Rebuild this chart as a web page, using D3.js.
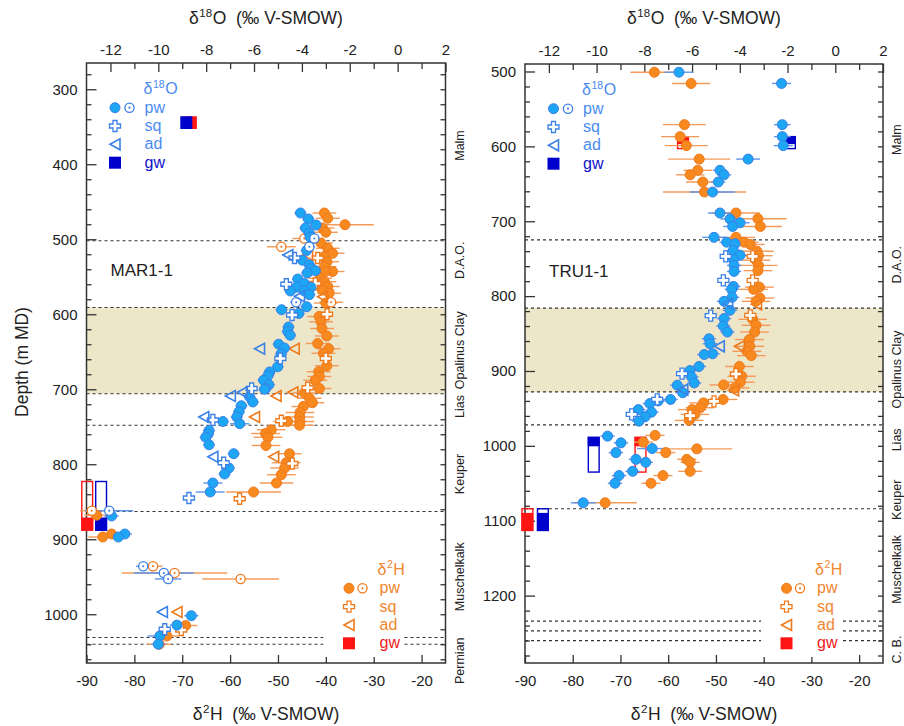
<!DOCTYPE html>
<html><head><meta charset="utf-8">
<script src="https://cdn.jsdelivr.net/npm/d3@7"></script>
<style>
body{margin:0;background:#fff}
svg{display:block}
text{font-family:"Liberation Sans",Arial,sans-serif;fill:#222}
</style>
</head><body><svg id="chart" width="904" height="726"></svg>
<script>
// ---------- axis domains & ticks ----------
const H2_DOMAIN = [-90, -15];           // δ2H, bottom axis
const O18_DOMAIN = [-13, 2];            // δ18O, top axis
const H2_TICKS = [-90, -80, -70, -60, -50, -40, -30, -20];
const O18_TICKS = [-12, -10, -8, -6, -4, -2, 0, 2];
const O18_MINOR = [-11, -9, -7, -5, -3, -1, 1];
const MAR_DEPTH = [265, 1065];
const TRU_DEPTH = [490, 1290];
const MAR_DEPTH_TICKS = [300, 400, 500, 600, 700, 800, 900, 1000];
const TRU_DEPTH_TICKS = [500, 600, 700, 800, 900, 1000, 1100, 1200];

// ---------- formations ----------
const marBoundaries = [502, 591, 706, 748, 863, 1031, 1040];
const marClay = [591, 706];
const marUnits = [["Malm", 375], ["D.A.O.", 528], ["Opalinus Clay", 648], ["Lias", 723], ["Keuper", 813], ["Muschelkalk", 950], ["Permian", 1062]];
const truBoundaries = [725, 816, 928, 972, 1084, 1234, 1247, 1260];
const truClay = [816, 928];
const truUnits = [["Malm", 591], ["D.A.O.", 758], ["Opalinus Clay", 898], ["Lias", 992], ["Keuper", 1072], ["Muschelkalk", 1165], ["C. B.", 1272]];

// ---------- MAR1-1 : [depth, value, error] ----------
const marPw18O = [[465,-4.06,0.25],[473,-3.73,0.25],[481,-3.41,0.25],[485,-3.85,0.25],[492,-3.69,0.25],[497,-3.66,0.25],[515,-3.80,0.25],[528,-3.98,0.25],[534,-3.69,0.25],[539,-3.62,0.25],[542,-3.44,0.25],[545,-3.78,0.25],[553,-4.17,0.25],[559,-3.90,0.25],[564,-4.22,0.25],[564,-3.62,0.25],[569,-4.48,0.25],[569,-3.90,0.25],[574,-3.69,0.25],[590,-3.80,0.25],[594,-4.85,0.25],[599,-4.13,0.25],[617,-4.56,0.25],[623,-4.59,0.25],[628,-4.49,0.25],[640,-4.97,0.25],[645,-4.73,0.25],[653,-4.87,0.25],[670,-5.01,0.25],[677,-5.35,0.25],[682,-5.42,0.25],[688,-5.60,0.25],[694,-5.38,0.25],[699,-5.52,0.25],[700,-5.56,0.25],[710,-6.19,0.25],[717,-6.05,0.25],[722,-6.53,0.25],[730,-6.63,0.25],[737,-6.72,0.25],[743,-7.30,0.25],[746,-6.60,0.4],[755,-7.88,0.25],[760,-7.92,0.25],[764,-8.02,0.25],[774,-7.88,0.25],[786,-6.85,0.25],[805,-7.05,0.25],[813,-7.23,0.25],[825,-7.72,0.4],[837,-7.83,0.6],[869,-11.95,0.3],[893,-11.40,0.3],[897,-11.67,0.3],[1002,-8.62,0.3],[1014.5,-9.22,0.3],[1029,-9.94,0.5],[1040,-10.0,0.3]];
const marPwOpen18O = [[499,-3.48,0.25],[510,-3.69,0.25],[584,-4.24,0.25],[862,-12.05,1.0],[936,-10.63,0.3],[945,-9.77,1.25],[953,-9.59,0.55]];
const marSq18O = [[525,-4.31],[560,-4.65],[601,-4.41],[659,-4.90],[699,-6.10],[741,-7.72],[798,-7.27],[845,-8.72],[1020,-9.73]];
const marAd18O = [[521,-4.59],[576,-4.10],[646,-5.77],[704,-6.49],[709,-6.99],[737,-8.10],[790,-7.72],[997,-9.83]];

const marPw2H = [[465,-40.3,2.5],[472,-39.6,2.5],[480.6,-36.0,6],[485,-40.7,2.5],[490.7,-40.0,2.5],[505,-41.0,2.5],[512,-39.6,2.5],[518.7,-38.6,2.5],[523,-40.3,2.5],[530,-39.75,2.5],[536.6,-40.3,2.5],[543,-38.6,2.5],[543,-40.1,2.5],[552,-41.2,2.5],[556.6,-40.3,2.5],[563,-39.6,2.5],[567.7,-40.7,2.5],[572,-39.3,2.5],[585,-40.0,2.5],[603,-41.4,2.5],[610,-41.0,2.5],[619,-40.8,2.5],[629,-39.8,2.5],[639,-41.7,2.5],[646,-39.4,2.5],[652,-40.5,2.5],[668.6,-39.8,2.5],[676.6,-41.5,2.5],[683,-41.35,2.5],[688,-42.2,2.5],[699,-41.35,2.5],[705,-44.5,2.5],[712,-43.4,2.5],[718,-42.8,2.5],[723,-44.7,2.5],[731,-45.4,3],[737,-45.5,3],[743,-45.4,3],[748,-45.5,3],[743,-48.0,3],[754,-51.4,3],[759,-52.6,3],[764,-52.1,3],[775,-52.5,3],[786,-47.6,2.5],[798,-48.3,3],[805,-48.6,3],[814,-49.3,3],[825,-50.3,3.5],[837,-55.1,5.7],[868,-87.9,2.5],[893,-84.75,2],[897,-86.6,3],[1015,-69.3,2.5],[1029,-73.2,2.5],[1040,-74.8,2.5]];
const marPwOpen2H = [[499,-44.5,2.5],[510,-49.3,3],[584,-38.9,2.5],[862,-88.9,2.5],[936,-76.1,2],[945,-71.6,11],[953,-57.8,8]];
const marSq2H = [[525,-41.7],[559,-42.2],[600,-39.75],[659,-40.0],[698,-43.8],[742,-49.3],[799,-47.0],[846,-58.0],[1021,-70.2]];
const marAd2H = [[521,-43.8],[576.6,-40.7],[646,-46.6],[704,-46.9],[709,-50.4],[737,-54.9],[790,-50.9],[997,-71.1]];

// groundwater samples: [value, interval top, interval base, filled top, filled base]
const marGw18O = [[-8.83, null, null, 336, 353], [-12.39, 823, 888, 871, 888]];
const marGw2H = [[-68.2, null, null, 336, 353], [-89.85, 823, 888, 871, 888]];

// ---------- TRU1-1 ----------
const truPw18O = [[501,-6.55,0.6],[516,-2.25,0.4],[571,-2.22,0.35],[587,-2.22,0.35],[599,-2.18,0.4],[617,-3.65,0.5],[632,-4.83,0.3],[638,-4.66,0.3],[647.6,-4.9,0.3],[661,-5.14,0.95],[689,-4.83,0.5],[697,-4.41,0.4],[702,-3.99,0.4],[707,-4.3,0.4],[721.5,-5.08,0.5],[728,-4.55,0.3],[730,-4.2,0.3],[739,-4.27,0.3],[745.5,-3.99,0.3],[751,-4.27,0.3],[759,-4.24,0.3],[767,-4.24,0.3],[787,-4.27,0.3],[791,-4.34,0.3],[801.6,-4.32,0.3],[807,-4.66,0.3],[819,-4.41,0.3],[830,-4.66,0.3],[840,-4.69,0.3],[848,-4.52,0.3],[857,-5.29,0.3],[863.5,-5.25,0.3],[877,-5.14,0.3],[878,-5.49,0.3],[894,-5.71,0.3],[899.5,-6.09,0.3],[908,-6.02,0.3],[916,-5.91,0.3],[919,-6.62,0.3],[929,-6.39,0.3],[938,-6.9,0.3],[940,-7.42,0.3],[943.5,-7.77,0.3],[951.6,-8.25,0.3],[955,-7.7,0.3],[961,-7.97,0.3],[967,-8.22,0.3],[987,-9.54,0.3],[996,-8.98,0.3],[1003.6,-7.67,0.63],[1009,-9.19,0.3],[1018,-8.35,0.3],[1022,-7.94,0.3],[1034,-8.49,0.3],[1039.7,-9.06,0.3],[1050,-9.23,0.3],[1076,-10.56,0.52]];
const truSq18O = [[747,-4.59],[779,-4.69],[826,-5.22],[903.5,-6.42],[938,-7.46],[958,-8.53]];
const truAd18O = [[810,-4.51],[867,-4.86],[925,-6.39]];

const truPw2H = [[501,-62.9,5],[516,-55.2,4],[571,-56.6,4.5],[587,-57.5,4],[599,-56.2,4.5],[617,-53.5,6.5],[632,-53.8,3],[638,-55.4,3],[647.6,-52.75,3.5],[661,-52.4,8.7],[689,-45.8,5],[696.6,-41.2,6],[707,-40.7,4.5],[721.5,-45.8,4],[728,-44.1,3],[731,-42.8,3],[740,-41.4,3.5],[746,-41.1,3],[752,-41.6,3],[759,-41.1,4],[766,-41.2,3],[788,-40.9,3],[791,-42.1,3],[802.5,-40.8,3],[807,-41.6,3],[831,-42.3,3],[839,-41.6,3],[848,-41.9,3],[858,-43.0,3],[867,-42.9,3],[873.7,-43.5,3],[879.5,-42.6,3],[894,-45.1,3],[907,-44.6,3],[915,-44.9,3],[918.6,-48.4,3],[922.6,-46.0,3],[938,-48.5,3],[942.6,-52.6,3],[949,-53.3,3],[951.6,-55.0,3],[958,-54.4,3],[966,-55.6,3],[986,-62.75,2],[995,-65.2,2],[1004,-54.0,7.4],[1009,-60.5,2],[1018,-56.1,2],[1022,-55.4,2],[1034,-55.4,2.5],[1039.7,-61.1,2],[1050,-63.6,2],[1076,-73.2,6.6]];
const truSq2H = [[747,-42.3],[779,-42.3],[825.6,-42.8],[904,-45.8],[940.5,-50.4],[959.6,-55.4]];
const truAd2H = [[811,-41.5],[867,-45.1],[926,-46.3]];

const truGw18O = [[-1.9, 587, 603, 587, 597], [-10.12, 988.5, 1035, 988.5, 1000.6], [-12.25, 1084, 1113, 1089.5, 1113]];
const truGw2H = [[-56.9, 587, 603, 587, 597], [-65.8, 988.5, 1035, 988.5, 1000.6], [-89.5, 1084, 1113, 1089.5, 1113]];

// ---------- styles ----------
const BLUE = {fill: "#1ca6f4", stroke: "#3a80e6", err: "#5f95ea", text: "#4a8bf0", gw: "#0000cc", gwText: "#1010c8"};
const ORANGE = {fill: "#f7891f", stroke: "#ef7a1c", err: "#f49a58", text: "#f08630", gw: "#ff1414", gwText: "#ee1a1a"};
const TAN = "#ede6c8";
const INK = "#333";
const FONT = '"Liberation Sans",Arial,sans-serif';

const svg = d3.select("#chart");

const crossPath = (a = 5.5, t = 2) =>
  `M${-t},${-a}H${t}V${-t}H${a}V${t}H${t}V${a}H${-t}V${t}H${-a}V${-t}H${-t}Z`;
const triPath = "M-5,0L5,-5.5L5,5.5Z";

function marker(g, kind, x, y, c) {
  if (kind === "pw") {
    g.append("circle").attr("cx", x).attr("cy", y).attr("r", 5)
      .attr("fill", c.fill).attr("stroke", c.stroke).attr("stroke-width", 1);
  } else if (kind === "open") {
    g.append("circle").attr("cx", x).attr("cy", y).attr("r", 4.6)
      .attr("fill", "#fff").attr("stroke", c.stroke).attr("stroke-width", 1.3);
    g.append("circle").attr("cx", x).attr("cy", y).attr("r", 1.1).attr("fill", c.stroke);
  } else if (kind === "sq") {
    g.append("path").attr("d", crossPath()).attr("transform", `translate(${x},${y})`)
      .attr("fill", "#fff").attr("stroke", c.stroke).attr("stroke-width", 1.3);
  } else if (kind === "ad") {
    g.append("path").attr("d", triPath).attr("transform", `translate(${x},${y})`)
      .attr("fill", "none").attr("stroke", c.stroke).attr("stroke-width", 1.6);
  } else if (kind === "gw") {
    g.append("rect").attr("x", x - 6).attr("y", y - 6).attr("width", 12).attr("height", 12).attr("fill", c.gw);
  }
}

function errorBars(g, data, xs, y, c) {
  g.selectAll(null).data(data.filter(d => d[2])).join("line")
    .attr("x1", d => xs(d[1] - d[2])).attr("x2", d => xs(d[1] + d[2]))
    .attr("y1", d => y(d[0])).attr("y2", d => y(d[0]))
    .attr("stroke", c.err).attr("stroke-width", 1.4);
}

function points(g, data, kind, xs, y, c) {
  data.forEach(d => marker(g, kind, xs(d[1]), y(d[0]), c));
}

function gwBoxes(g, data, xs, y, color) {
  data.forEach(([v, t0, t1, f0, f1]) => {
    const cx = xs(v);
    g.append("rect").attr("x", cx - 6).attr("y", y(f0)).attr("width", 12)
      .attr("height", y(f1) - y(f0)).attr("fill", color);
    if (t0 !== null) {
      g.append("rect").attr("x", cx - 5.4).attr("y", y(t0)).attr("width", 10.8)
        .attr("height", y(t1) - y(t0)).attr("fill", "none").attr("stroke", color).attr("stroke-width", 1.4);
    }
  });
}

// isotope label such as δ18O: main letter, raised mass number, tail text laid side by side
function isoLabel(g, x, y, main, sup, tail, size, color, anchor = "start") {
  const grp = g.append("g");
  const a = grp.append("text").attr("y", y).attr("font-size", size).style("fill", color).text(main);
  const b = grp.append("text").attr("y", y - size * 0.4).attr("font-size", size * 0.66).style("fill", color).text(sup);
  const c = grp.append("text").attr("y", y).attr("font-size", size).style("fill", color)
    .style("white-space", "pre").text(tail);
  const wa = a.node().getComputedTextLength();
  const wb = b.node().getComputedTextLength();
  const wc = c.node().getComputedTextLength();
  const x0 = anchor === "middle" ? x - (wa + wb + wc + 1) / 2 : x;
  a.attr("x", x0);
  b.attr("x", x0 + wa + 0.5);
  c.attr("x", x0 + wa + wb + 1);
  return grp;
}

function legend18O(g, L, T) {
  isoLabel(g, L + 57, T + 31, "δ", "18", "O", 16, BLUE.text);
  const rows = [["pw", T + 44.7], ["sq", T + 63], ["ad", T + 81.3], ["gw", T + 99.7]];
  rows.forEach(([k, yy]) => {
    marker(g, k, L + 28.5, yy, BLUE);
    if (k === "pw") marker(g, "open", L + 43, yy, BLUE);
    g.append("text").attr("x", L + 58).attr("y", yy + 5).attr("font-size", 16)
      .style("fill", k === "gw" ? BLUE.gwText : BLUE.text).text(k);
  });
}

function legend2H(g, R, B) {
  g.append("rect").attr("x", R - 122).attr("y", B - 102).attr("width", 80).attr("height", 96).attr("fill", "#fff");
  isoLabel(g, R - 68, B - 88.5, "δ", "2", "H", 16, ORANGE.text);
  const rows = [["pw", B - 74.7], ["sq", B - 56.3], ["ad", B - 38], ["gw", B - 19.7]];
  rows.forEach(([k, yy]) => {
    marker(g, k, R - 96.5, yy, ORANGE);
    if (k === "pw") marker(g, "open", R - 83, yy, ORANGE);
    g.append("text").attr("x", R - 66).attr("y", yy + 5).attr("font-size", 16)
      .style("fill", k === "gw" ? ORANGE.gwText : ORANGE.text).text(k);
  });
}

function styleAxis(sel) {
  sel.select(".domain").remove();
  sel.selectAll(".tick line").attr("stroke", INK).attr("stroke-width", 1.3);
  sel.selectAll(".tick text").attr("font-size", 15).style("fill", "#222").attr("font-family", FONT);
}

function panel(cfg) {
  const {L, R, T, B, depth, depthTicks, boundaries, clay, units, name, pw18, open18, sq18, ad18, gw18, pw2, open2, sq2, ad2, gw2} = cfg;
  const x2 = d3.scaleLinear().domain(H2_DOMAIN).range([L, R]);
  const x18 = d3.scaleLinear().domain(O18_DOMAIN).range([L, R]);
  const y = d3.scaleLinear().domain(depth).range([T, B]);
  const g = svg.append("g");

  // Opalinus Clay band
  g.append("rect").attr("x", L).attr("y", y(clay[0])).attr("width", R - L)
    .attr("height", y(clay[1]) - y(clay[0])).attr("fill", TAN);

  // formation boundaries
  g.selectAll(null).data(boundaries).join("line")
    .attr("x1", L).attr("x2", R).attr("y1", d => y(d)).attr("y2", d => y(d))
    .attr("stroke", INK).attr("stroke-width", 1.2).attr("stroke-dasharray", "3,3");

  // formation names
  units.forEach(([nm, dp]) => {
    g.append("text").attr("transform", `translate(${R + 18},${y(dp)}) rotate(-90)`)
      .attr("text-anchor", "middle").attr("font-size", 12.5).text(nm);
  });

  // axes
  const minorDepth = d3.range(Math.ceil(depth[0] / 20) * 20, depth[1], 20).filter(d => d % 100 !== 0);
  g.append("g").attr("transform", `translate(0,${T})`)
    .call(d3.axisTop(x18).tickValues(O18_TICKS).tickFormat(d => String(d)).tickSizeInner(-9).tickSizeOuter(0).tickPadding(8)).call(styleAxis);
  g.append("g").attr("transform", `translate(0,${T})`)
    .call(d3.axisTop(x18).tickValues(O18_MINOR).tickFormat("").tickSizeInner(-6).tickSizeOuter(0)).call(styleAxis);
  g.append("g").attr("transform", `translate(0,${B})`)
    .call(d3.axisBottom(x2).tickValues(H2_TICKS).tickFormat(d => String(d)).tickSizeInner(-8).tickSizeOuter(0).tickPadding(12)).call(styleAxis);
  g.append("g").attr("transform", `translate(${L},0)`)
    .call(d3.axisLeft(y).tickValues(depthTicks).tickFormat(d => String(d)).tickSizeInner(-10).tickSizeOuter(0).tickPadding(9)).call(styleAxis);
  g.append("g").attr("transform", `translate(${L},0)`)
    .call(d3.axisLeft(y).tickValues(minorDepth).tickFormat("").tickSizeInner(-5).tickSizeOuter(0)).call(styleAxis);
  g.append("g").attr("transform", `translate(${R},0)`)
    .call(d3.axisRight(y).tickValues(depthTicks.concat(minorDepth)).tickFormat("").tickSizeInner(-5).tickSizeOuter(0)).call(styleAxis);

  // frame
  g.append("rect").attr("x", L).attr("y", T).attr("width", R - L).attr("height", B - T)
    .attr("fill", "none").attr("stroke", INK).attr("stroke-width", 1.5);

  // legends
  legend2H(g, R, B);
  legend18O(g, L, T);

  // groundwater intervals
  gwBoxes(g, gw2, x2, y, ORANGE.gw);
  gwBoxes(g, gw18, x18, y, BLUE.gw);

  // error bars
  errorBars(g, pw2.concat(open2), x2, y, ORANGE);
  errorBars(g, pw18.concat(open18), x18, y, BLUE);

  // δ2H marks
  points(g, pw2, "pw", x2, y, ORANGE);
  points(g, open2, "open", x2, y, ORANGE);
  points(g, sq2, "sq", x2, y, ORANGE);
  points(g, ad2, "ad", x2, y, ORANGE);
  // δ18O marks
  points(g, pw18, "pw", x18, y, BLUE);
  points(g, open18, "open", x18, y, BLUE);
  points(g, sq18, "sq", x18, y, BLUE);
  points(g, ad18, "ad", x18, y, BLUE);

  // borehole name
  g.append("text").attr("x", L + 24).attr("y", T + 213).attr("font-size", 17).text(name);

  // axis titles
  isoLabel(g, (L + R) / 2, 24, "δ", "18", "O  (‰ V-SMOW)", 17.5, "#222", "middle");
  isoLabel(g, (L + R) / 2, 720, "δ", "2", "H  (‰ V-SMOW)", 17.5, "#222", "middle");
}

panel({L: 86.5, R: 445.5, T: 63, B: 663, depth: MAR_DEPTH, depthTicks: MAR_DEPTH_TICKS,
  boundaries: marBoundaries, clay: marClay, units: marUnits, name: "MAR1-1",
  pw18: marPw18O, open18: marPwOpen18O, sq18: marSq18O, ad18: marAd18O, gw18: marGw18O,
  pw2: marPw2H, open2: marPwOpen2H, sq2: marSq2H, ad2: marAd2H, gw2: marGw2H});

panel({L: 525, R: 883, T: 64, B: 663, depth: TRU_DEPTH, depthTicks: TRU_DEPTH_TICKS,
  boundaries: truBoundaries, clay: truClay, units: truUnits, name: "TRU1-1",
  pw18: truPw18O, open18: [], sq18: truSq18O, ad18: truAd18O, gw18: truGw18O,
  pw2: truPw2H, open2: [], sq2: truSq2H, ad2: truAd2H, gw2: truGw2H});

// depth axis title
svg.append("text").attr("transform", "translate(28,362) rotate(-90)")
  .attr("text-anchor", "middle").attr("font-size", 17.5).text("Depth (m MD)");
</script></body></html>
